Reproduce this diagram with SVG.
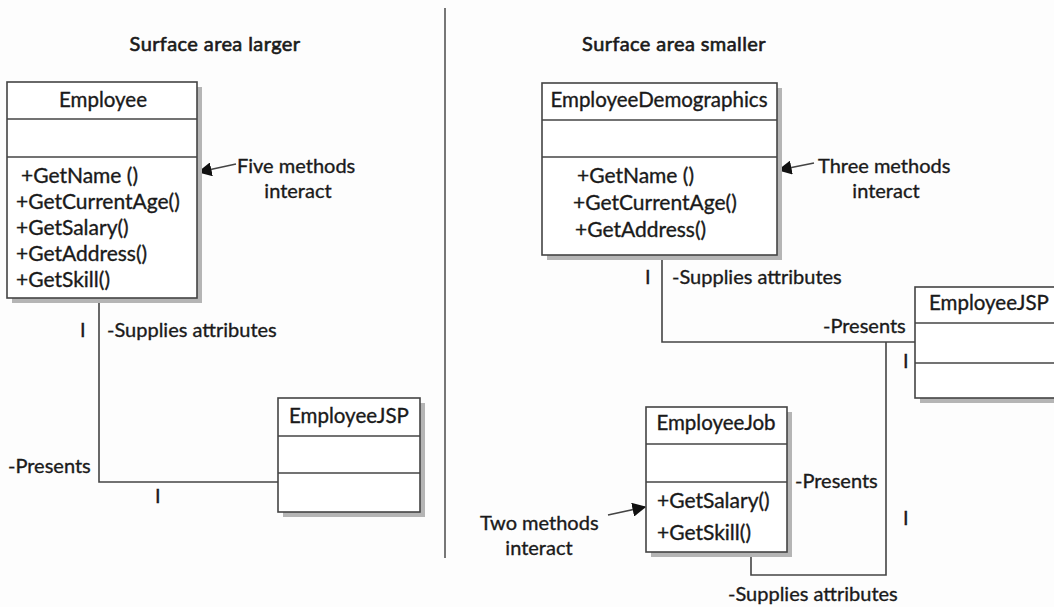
<svg xmlns="http://www.w3.org/2000/svg" width="1054" height="607" viewBox="0 0 1054 607">
<style>
text{font-family:Lato,"Liberation Sans",sans-serif;fill:#1a1a1a;stroke:#1a1a1a;stroke-width:0.35;font-size:20px}
.t{text-anchor:middle}
.m{font-size:21px}
.c{font-size:20.5px}
.box{fill:#fff;stroke:#444;stroke-width:1.6}
.sh{fill:#b5b5b5}
.ln{fill:none;stroke:#444;stroke-width:1.6}
.ttl{font-size:20px;stroke-width:0.6;letter-spacing:0.4px}
</style>
<defs>
<marker id="ah" viewBox="0 0 10 10" refX="9" refY="5" markerWidth="14" markerHeight="14" markerUnits="userSpaceOnUse" orient="auto">
<path d="M0,0 L10,5 L0,10 z" fill="#111"/>
</marker>
</defs>
<rect width="1054" height="607" fill="#fdfdfd"/>
<line x1="445" y1="8" x2="445" y2="558" stroke="#777" stroke-width="2"/>
<text class="t ttl" x="215" y="51">Surface area larger</text>
<text class="t ttl" x="674" y="51">Surface area smaller</text>

<g id="connectors">
<polyline class="ln" points="99,298 99,482 278,482"/>
<polyline class="ln" points="662,255 662,342 916,342"/>
<polyline class="ln" points="886,342 886,575 751,575 751,552"/>
<line class="ln" x1="236" y1="164" x2="199" y2="172" marker-end="url(#ah)"/>
<line class="ln" x1="814" y1="163" x2="779" y2="170" marker-end="url(#ah)"/>
<line class="ln" x1="608" y1="515" x2="645" y2="507" marker-end="url(#ah)"/>
<text x="80" y="337">I</text>
<text x="107" y="337">-Supplies attributes</text>
<text x="8" y="473">-Presents</text>
<text x="155" y="503">I</text>
<text x="645" y="284">I</text>
<text x="672" y="284">-Supplies attributes</text>
<text x="823" y="333">-Presents</text>
<text x="903" y="368">I</text>
<text x="795" y="488">-Presents</text>
<text x="903" y="525">I</text>
<text x="728" y="601">-Supplies attributes</text>
</g>

<g id="employee">
<rect class="sh" x="12" y="87" width="190" height="216"/>
<rect class="box" x="7" y="82" width="190" height="216"/>
<line class="ln" x1="7" y1="119" x2="197" y2="119"/>
<line class="ln" x1="7" y1="157" x2="197" y2="157"/>
<text class="t c" x="103" y="107">Employee</text>
<text class="m" x="21" y="183">+GetName ()</text>
<text class="m" x="16" y="209">+GetCurrentAge()</text>
<text class="m" x="16" y="235">+GetSalary()</text>
<text class="m" x="16" y="261">+GetAddress()</text>
<text class="m" x="16" y="287">+GetSkill()</text>
</g>
<g id="note-five">
<text x="237" y="173">Five methods</text>
<text class="t" x="298" y="198">interact</text>
</g>

<g id="employeejsp-left">
<rect class="sh" x="283" y="403" width="142" height="114"/>
<rect class="box" x="278" y="398" width="142" height="114"/>
<line class="ln" x1="278" y1="436" x2="420" y2="436"/>
<line class="ln" x1="278" y1="473" x2="420" y2="473"/>
<text class="t c" x="349" y="423">EmployeeJSP</text>
</g>

<g id="employeedemographics">
<rect class="sh" x="547" y="88" width="235" height="172"/>
<rect class="box" x="542" y="83" width="235" height="172"/>
<line class="ln" x1="542" y1="120" x2="777" y2="120"/>
<line class="ln" x1="542" y1="157" x2="777" y2="157"/>
<text class="t c" x="659" y="107">EmployeeDemographics</text>
<text class="m" x="577" y="183">+GetName ()</text>
<text class="m" x="573" y="210">+GetCurrentAge()</text>
<text class="m" x="575" y="237">+GetAddress()</text>
</g>
<g id="note-three">
<text x="818" y="173">Three methods</text>
<text class="t" x="886" y="198">interact</text>
</g>

<g id="employeejsp-right">
<rect class="sh" x="920" y="292" width="150" height="111"/>
<rect class="box" x="915" y="287" width="150" height="111"/>
<line class="ln" x1="915" y1="323" x2="1065" y2="323"/>
<line class="ln" x1="915" y1="363" x2="1065" y2="363"/>
<text class="c" x="929" y="310">EmployeeJSP</text>
</g>

<g id="employeejob">
<rect class="sh" x="651" y="412" width="141" height="145"/>
<rect class="box" x="646" y="407" width="141" height="145"/>
<line class="ln" x1="646" y1="444" x2="787" y2="444"/>
<line class="ln" x1="646" y1="482" x2="787" y2="482"/>
<text class="t c" x="716" y="430">EmployeeJob</text>
<text class="m" x="657" y="508">+GetSalary()</text>
<text class="m" x="657" y="540">+GetSkill()</text>
</g>
<g id="note-two">
<text x="480" y="530">Two methods</text>
<text class="t" x="539" y="555">interact</text>
</g>
</svg>
